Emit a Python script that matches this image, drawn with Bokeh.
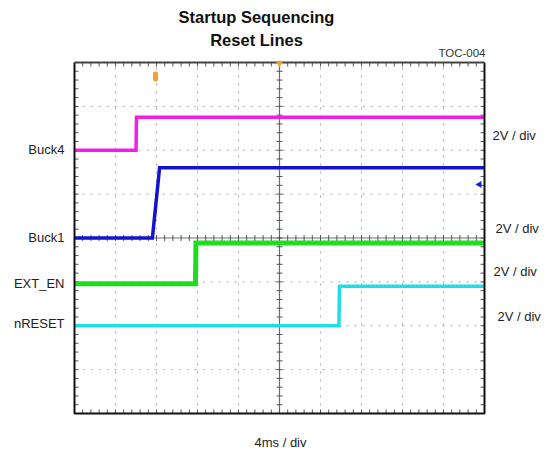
import math
from bokeh.plotting import figure
from bokeh.core.properties import value
from bokeh.embed import file_html
from bokeh.resources import INLINE

# ---------------- data (read from the scope capture) ----------------
time_per_div_ms = 4          # 4 ms/div
n_xdiv = 10
n_ydiv = 8
volts_per_div = 2

channels = ["Buck4", "Buck1", "EXT_EN", "nRESET"]
colors = ["#f01ee6", "#1212d0", "#1edc1e", "#22dce8"]
offsets_div = [6.0, 4.0, 2.96, 2.0]          # channel ground level (divisions)
high_volts = [1.5, 3.2, 1.85, 1.8]           # level after turn-on (V)
rise_start_ms = [6.0, 7.6, 11.8, 25.8]
rise_end_ms = [6.05, 8.3, 11.85, 25.85]
line_widths = [3.5, 3.5, 5, 3.5]

trigger_ms = 7.9
ch1_marker_div = 5.22

title_lines = ["Startup Sequencing", "Reset Lines"]
toc_label = "TOC-004"
time_label = "4ms / div"
volt_labels = ["2V / div", "2V / div", "2V / div", "2V / div"]

# ---------------- layout of the picture (pixels) ----------------
W, H = 547, 453
FL, FR, FT, FB = 74, 484, 62, 413     # scope screen edges in picture pixels
fw, fh = FR - FL, FB - FT
xmax = time_per_div_ms * n_xdiv

def X(px):
    return (px - FL) / fw * xmax

def Y(py):
    return (FB - py) / fh * n_ydiv

dxp = xmax / fw
dyp = n_ydiv / fh

p = figure(width=W, height=H, x_range=(X(0), X(W)), y_range=(Y(H), Y(0)),
           x_axis_location=None, y_axis_location=None,
           toolbar_location=None, output_backend="svg",
           min_border=0)
p.background_fill_color = "white"
p.border_fill_color = "white"
p.outline_line_color = None
p.grid.visible = False

# dotted graticule
gx = [time_per_div_ms * i for i in range(1, n_xdiv) if i != n_xdiv // 2]
gy = [i for i in range(1, n_ydiv) if i != n_ydiv // 2]
p.segment(gx, [0] * len(gx), gx, [n_ydiv] * len(gx),
          line_color="#a8a8a8", line_width=1, line_dash="2 6")
p.segment([0] * len(gy), gy, [xmax] * len(gy), gy,
          line_color="#a8a8a8", line_width=1, line_dash="2 6")

# center cross lines
p.segment([xmax / 2], [0], [xmax / 2], [n_ydiv], line_color="#6a6a6a", line_width=1.2)
p.segment([0], [n_ydiv / 2], [xmax], [n_ydiv / 2], line_color="#7a6a6a", line_width=1.2)

# minor ticks on center lines and borders
x0s, y0s, x1s, y1s = [], [], [], []
for i in range(1, n_xdiv * 5):
    t = i * time_per_div_ms / 5
    x0s += [t]; x1s += [t]; y0s += [n_ydiv / 2 - 3 * dyp]; y1s += [n_ydiv / 2 + 3 * dyp]
    x0s += [t]; x1s += [t]; y0s += [n_ydiv]; y1s += [n_ydiv - 4 * dyp]
    x0s += [t]; x1s += [t]; y0s += [0]; y1s += [4 * dyp]
for i in range(1, n_ydiv * 5):
    v = i / 5
    x0s += [xmax / 2 - 3 * dxp]; x1s += [xmax / 2 + 3 * dxp]; y0s += [v]; y1s += [v]
    x0s += [0]; x1s += [4 * dxp]; y0s += [v]; y1s += [v]
    x0s += [xmax]; x1s += [xmax - 4 * dxp]; y0s += [v]; y1s += [v]
p.segment(x0s, y0s, x1s, y1s, line_color="#555555", line_width=1)

# traces
for name, c, off, hv, rs, re, lw in zip(channels, colors, offsets_div, high_volts,
                                          rise_start_ms, rise_end_ms, line_widths):
    hi = off + hv / volts_per_div
    p.line([0, rs, re, xmax], [off, off, hi, hi], line_color=c, line_width=lw,
           line_join="miter")

# screen border
p.line([0, 0, xmax, xmax], [n_ydiv, 0, 0, n_ydiv], line_color="#111111", line_width=2)
p.line([0, xmax], [n_ydiv, n_ydiv], line_color="#444444", line_width=2)

# markers
p.rect(x=[trigger_ms], y=[Y(76)], width=5 * dxp, height=10 * dyp,
       fill_color="#f5a030", line_color=None, border_radius=2)
p.scatter(x=[xmax / 2], y=[n_ydiv - 1 * dyp], marker="inverted_triangle", size=7,
          fill_color="#f5a030", line_color=None)
p.scatter(x=[xmax - 5 * dxp], y=[ch1_marker_div], marker="triangle", angle=math.pi / 2,
          size=7, fill_color="#1a1ad8", line_color=None)

FONT = "Liberation Sans"

def lab(text, px, py, size, align="left", bold=False, color="#222222"):
    p.text(x=[X(px)], y=[Y(py)], text=[text], text_font=value(FONT),
           text_font_size=f"{size}px", text_align=align,
           text_baseline="middle", text_color=color,
           text_font_style="bold" if bold else "normal")

lab(title_lines[0], 256, 16, 16.5, "center", True, "#111111")
lab(title_lines[1], 256, 39, 16.5, "center", True, "#111111")
lab(toc_label, 485, 52, 11.5, "right", False, "#333333")
lab(time_label, 280, 442, 13, "center")

left_y = [149, 237, 283, 323]
for name, ly in zip(channels, left_y):
    lab(name, 64, ly, 13, "right")

right_pos = [(492, 135), (495, 228), (493, 271), (497, 316)]
for t, (rx, ry) in zip(volt_labels, right_pos):
    lab(t, rx, ry, 13, "left")

open("out.html", "w").write(file_html(p, INLINE))
